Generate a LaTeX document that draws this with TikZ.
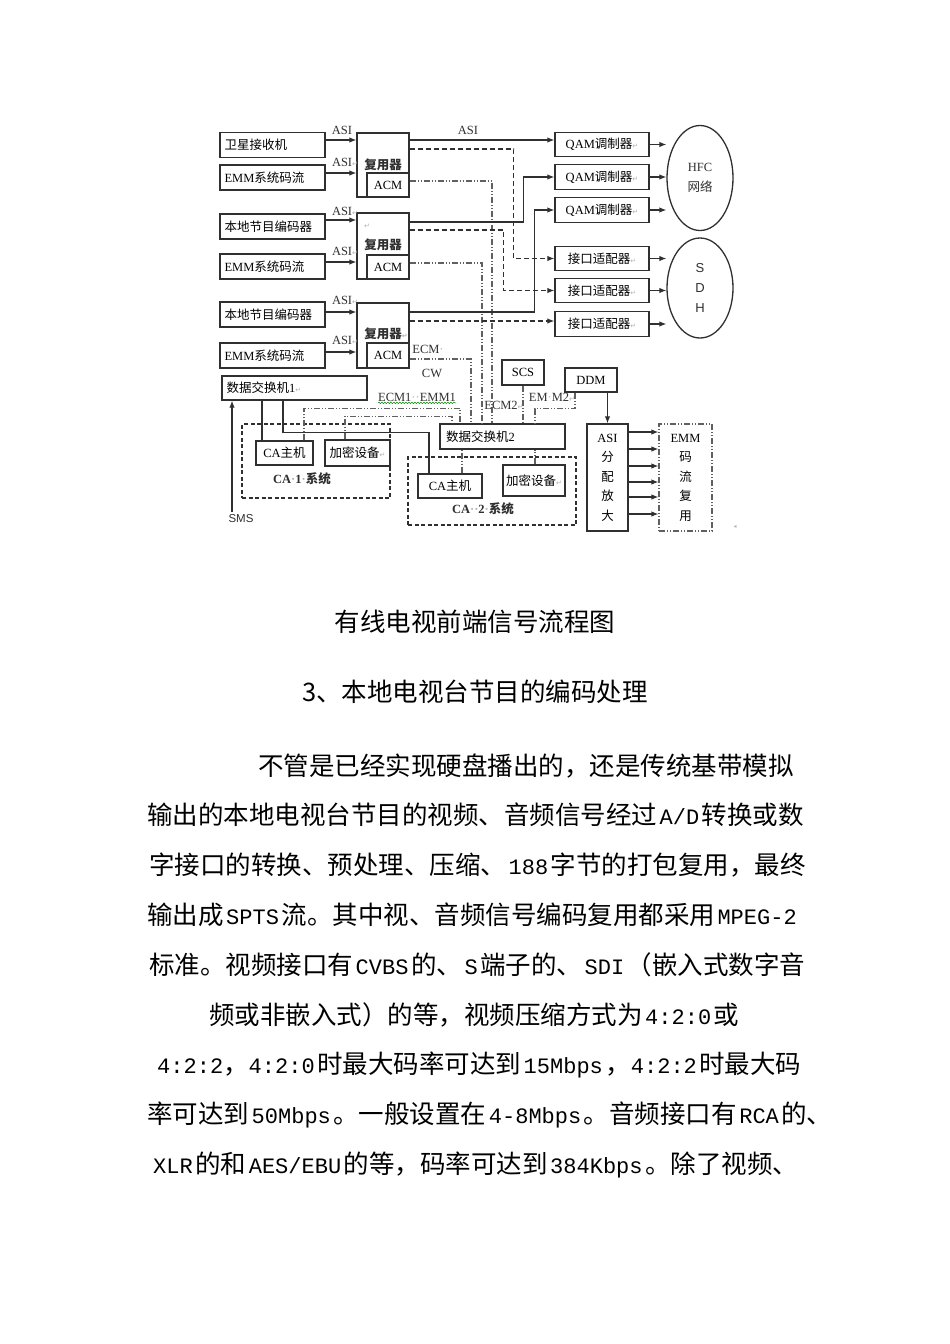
\documentclass[tikz,border=0pt]{standalone}
\usepackage{fontspec}
\setmainfont{Liberation Serif}
\newfontfamily\cjk{Noto Sans CJK SC}
\newfontfamily\mono{Liberation Mono}
\newfontfamily\symf{DejaVu Sans}
\newfontfamily\sansf{Liberation Sans}
\usetikzlibrary{arrows.meta,shapes.geometric,decorations.pathmorphing}
\definecolor{ln}{HTML}{303030}
\definecolor{dl}{HTML}{606060}
\newcommand\ret{{\symf\color{gray!60}\fontsize{7}{7}\selectfont ↵}}
\newcommand\gdot{{\color{gray!60}·}}
\newcommand\dfont{\fontsize{12.5}{14}\selectfont}
\newcommand\lat[1]{\kern2.5pt{\mono\fontsize{22}{30}\selectfont #1}\kern2.5pt}
\newcommand\latn[1]{{\mono\fontsize{22}{30}\selectfont #1}}
\tikzset{
  box/.style={draw=ln, line width=1.3pt, inner sep=0pt, font=\dfont},
  lbox/.style={box, minimum width=105pt, minimum height=25pt, text width=96pt, align=left},
  qbox/.style={box, minimum width=94pt, minimum height=24.5pt},
  sol/.style={draw=ln, line width=1.2pt},
  arr/.style={draw=ln, line width=1.2pt, -{Latex[length=7pt,width=5.5pt]}},
  dsh/.style={draw=ln, line width=1.2pt, dash pattern=on 5pt off 3pt},
  dd/.style={draw=dl, line width=1.2pt, dash pattern=on 6pt off 2pt on 1pt off 2pt on 1pt off 2pt},
  lbl/.style={inner sep=0pt, font=\dfont, text=ln},
  body/.style={anchor=west, inner sep=0pt, font=\cjk\fontsize{25.5}{30}\selectfont},
  head/.style={inner sep=0pt, font=\cjk\fontsize{25.5}{30}\selectfont}
}
\begin{document}
\begin{tikzpicture}[x=1pt,y=-1pt]
\useasboundingbox[fill=white] (0,0) rectangle (950,1344);

% left input boxes
\node[lbox] (sat)  at (272.5,145)   {\cjk 卫星接收机};
\node[lbox] (emm1) at (272.5,177.5) {EMM{\cjk 系统码流}};
\node[lbox] (enc2) at (272.5,226.5) {\cjk 本地节目编码器};
\node[lbox] (emm2) at (272.5,266.5) {EMM{\cjk 系统码流}};
\node[lbox] (enc3) at (272.5,314.5) {\cjk 本地节目编码器};
\node[lbox] (emm3) at (272.5,355.5) {EMM{\cjk 系统码流}};
\node[box, minimum width=145pt, minimum height=24pt, text width=136pt, align=left] (sw1) at (294.5,388) {{\cjk 数据交换机}1\ret};

% multiplexers
\node[box, minimum width=52pt, minimum height=64pt] (mux1) at (383,165) {};
\node[box, minimum width=42pt, minimum height=24pt] (acm1) at (388,185) {ACM};
\node[lbl, font=\dfont\bfseries] (m1l) at (383,165) {\cjk 复用器};
\node[box, minimum width=52pt, minimum height=66pt] (mux2) at (383,246) {};
\node[box, minimum width=42pt, minimum height=24pt] (acm2) at (388,267) {ACM};
\node[lbl, font=\dfont\bfseries] (m2l) at (383,245) {\cjk 复用器};
\node[lbl] (m2r) at (367,226) {\ret};
\node[box, minimum width=52pt, minimum height=65pt] (mux3) at (383,335.5) {};
\node[box, minimum width=42pt, minimum height=25pt] (acm3) at (388,355.5) {ACM};
\node[lbl, font=\dfont\bfseries] (m3l) at (386,334) {{\cjk 复用器}\ret};

% QAM and interface adapters
\node[qbox] (qam1) at (602,144.5) {QAM{\cjk 调制器}\ret};
\node[qbox] (qam2) at (602,177)   {QAM{\cjk 调制器}\ret};
\node[qbox] (qam3) at (602,210)   {QAM{\cjk 调制器}\ret};
\node[qbox] (if1)  at (602,258.5) {{\cjk 接口适配器}\ret};
\node[qbox] (if2)  at (602,290.5) {{\cjk 接口适配器}\ret};
\node[qbox] (if3)  at (602,324)   {{\cjk 接口适配器}\ret};

% networks
\node[ellipse, draw=ln, line width=1.3pt, inner sep=0pt, minimum width=66pt, minimum height=105pt, align=center, font=\fontsize{12.5}{20}\selectfont, text=ln] (hfc) at (700,178) {HFC\\{\cjk 网络}};
\node[ellipse, draw=ln, line width=1.3pt, inner sep=0pt, minimum width=66pt, minimum height=100pt, align=center, font=\sansf\fontsize{13}{20}\selectfont, text=ln] (sdh) at (700,288) {S\\D\\H};

% lower centre
\node[box, minimum width=125pt, minimum height=25pt, text width=113pt, align=left] (sw2) at (502.5,436.5) {{\cjk 数据交换机}2};
\node[box, minimum width=42pt, minimum height=25pt] (scs) at (523,372.5) {SCS};
\node[box, minimum width=52pt, minimum height=24pt] (ddm) at (591,380) {DDM};
\node[box, minimum width=41pt, minimum height=107pt, align=center, font=\fontsize{12.5}{19.5}\selectfont] (asi) at (607.5,477.5) {ASI\\{\cjk 分}\\{\cjk 配}\\{\cjk 放}\\{\cjk 大}};
\node[box, dd, minimum width=53pt, minimum height=107pt, align=center, font=\fontsize{12.5}{19.5}\selectfont] (emmx) at (685.5,477.5) {EMM\\{\cjk 码}\\{\cjk 流}\\{\cjk 复}\\{\cjk 用}};

% CA systems
\node[draw=ln, line width=1.2pt, dash pattern=on 4pt off 2.5pt, minimum width=148pt, minimum height=74pt, inner sep=0pt] (ca1) at (316,461) {};
\node[box, minimum width=57pt, minimum height=24pt] (cah1) at (284.5,453) {CA{\cjk 主机}};
\node[box, minimum width=65pt, minimum height=26pt] (enc1) at (357.5,453) {{\cjk 加密设备}\ret};
\node[lbl, font=\dfont\bfseries] (ca1l) at (302,479) {CA\gdot 1\gdot{\cjk 系统}};
\node[draw=ln, line width=1.2pt, dash pattern=on 4pt off 2.5pt, minimum width=168pt, minimum height=68pt, inner sep=0pt] (ca2) at (492,491) {};
\node[box, minimum width=64pt, minimum height=24pt] (cah2) at (450,486) {CA{\cjk 主机}};
\node[box, minimum width=62pt, minimum height=31pt] (enc2b) at (534,480.5) {{\cjk 加密设备}\ret};
\node[lbl, font=\dfont\bfseries] (ca2l) at (483,509) {CA\gdot\gdot 2\gdot{\cjk 系统}};

% input arrows
\draw[arr] ([yshift=5pt]sat.east)    -- ([yshift=5pt]sat.east -| mux1.west);
\draw[arr] ([yshift=4.5pt]emm1.east) -- ([yshift=4.5pt]emm1.east -| mux1.west);
\draw[arr] ([yshift=6.5pt]enc2.east) -- ([yshift=6.5pt]enc2.east -| mux2.west);
\draw[arr] ([yshift=4.5pt]emm2.east) -- ([yshift=4.5pt]emm2.east -| mux2.west);
\draw[arr] ([yshift=2.5pt]enc3.east) -- ([yshift=2.5pt]enc3.east -| mux3.west);
\draw[arr] ([yshift=3.5pt]emm3.east) -- ([yshift=3.5pt]emm3.east -| mux3.west);
\node[lbl] (a1) at (342,130) {ASI};
\node[lbl] (a2) at (345,162) {ASI\ret};
\node[lbl] (a3) at (345,211) {ASI\ret};
\node[lbl] (a4) at (345,251) {ASI\ret};
\node[lbl] (a5) at (345,300) {ASI\ret};
\node[lbl] (a6) at (345,340) {ASI\ret};

% mux outputs
\draw[arr] ([yshift=25pt]mux1.east) -- ([yshift=25pt]mux1.east -| qam1.west);
\node[lbl] (a7) at (468,130) {ASI};
\draw[dsh,-{Latex[length=7pt,width=5.5pt]}] ([yshift=16pt]mux1.east) -- ++(104,0) |- (if1.west);
\draw[dd] ([yshift=4pt]acm1.east) -| ([xshift=-10.5pt]sw2.north);
\draw[arr] ([yshift=24pt]mux2.east) -- ++(114,0) |- (qam2.west);
\draw[dsh,-{Latex[length=7pt,width=5.5pt]}] ([yshift=16pt]mux2.east) -- ++(94,0) |- (if2.west);
\draw[dd] ([yshift=4pt]acm2.east) -| ([xshift=-20.5pt]sw2.north);
\draw[arr] ([yshift=23.5pt]mux3.east) -- ++(125,0) |- (qam3.west);
\draw[dsh,-{Latex[length=7pt,width=5.5pt]}] ([yshift=14.5pt]mux3.east) -- ([yshift=14.5pt]mux3.east -| if3.west);
\draw[dd] ([yshift=-3.5pt]acm3.east) -| ([xshift=-31.5pt]sw2.north);
\node[lbl] (lecm) at (428,349) {ECM\gdot};
\node[lbl] (lcw) at (432,373) {CW};

% to networks
\foreach \b in {qam1,qam2,qam3} \draw[arr] (\b.east) -- (\b.east -| hfc.west);
\foreach \b in {if1,if2,if3} \draw[arr] (\b.east) -- (\b.east -| sdh.west);

% SCS, DDM
\draw[dd] (scs.south) -- (scs.south |- sw2.north);
\node[lbl] (lecm2) at (504,405) {ECM2\ret};
\draw[dd] ([xshift=-16pt]ddm.south) -- ++(0,16) -| ([xshift=32.5pt]sw2.north);
\node[lbl] (lemm2) at (552,397) {EM\gdot M2\ret};
\draw[arr] (asi.north |- ddm.south) -- (asi.north);
\foreach \s in {45.5,28.5,11.5,-4.5,-19.5,-36.5}
  \draw[arr] ([yshift=\s pt]asi.east) -- ([yshift=\s pt]asi.east -| emmx.west);

% data switch 1 links
\draw[sol] ([xshift=-22.5pt]cah1.north) -- ([xshift=-22.5pt]cah1.north |- sw1.south);
\draw[sol] ([xshift=-11.5pt]sw1.south) -- ++(0,32) -| ([xshift=-21pt]cah2.north);
\coordinate (sms) at (232,512);
\draw[arr] (sms) -- (sms |- sw1.south);
\node[lbl, font=\sansf\fontsize{11.5}{13}\selectfont] (smsl) at (241,519) {SMS};

% CA1 to data switch 2
\draw[dd] ([xshift=19.5pt]cah1.north) -- ++(0,-32) -| ([xshift=-42.5pt]sw2.north);
\draw[dd] ([xshift=-12.5pt]enc1.north) -- ++(0,-23) -| ([xshift=-50.5pt]sw2.north);
\node[lbl] (lecm1) at (417,397) {ECM1\gdot\gdot EMM1};
\draw[green!55!black, line width=0.5pt, decorate, decoration={snake, amplitude=0.7pt, segment length=3pt}] ([yshift=-1.5pt]lecm1.south west) -- ([yshift=-1.5pt]lecm1.south east);

% data switch 2 to CA2
\draw[dd] ([xshift=12pt]cah2.north) -- ([xshift=12pt]cah2.north |- sw2.south);
\draw[dd] ([xshift=1pt]enc2b.north) -- ([xshift=1pt]enc2b.north |- sw2.south);

\node[lbl, text=gray!60, font=\symf\fontsize{6}{6}\selectfont] (mk) at (735,527) {◂};

% text below
\node[head] (cap) at (475,622) {有线电视前端信号流程图};
\node[head] (sec) at (475,692) {3、本地电视台节目的编码处理};
\node[body] (l1) at (258,766) {不管是已经实现硬盘播出的，还是传统基带模拟};
\node[body] (l2) at (147,815) {输出的本地电视台节目的视频、音频信号经过\lat{A/D}转换或数};
\node[body] (l3) at (149,865) {字接口的转换、预处理、压缩、\lat{188}字节的打包复用，最终};
\node[body] (l4) at (147,915) {输出成\lat{SPTS}流。其中视、音频信号编码复用都采用\lat{MPEG-2}};
\node[body] (l5) at (149,965) {标准。视频接口有\lat{CVBS}的、\lat{S}端子的、\lat{SDI}（嵌入式数字音};
\node[body] (l6) at (209,1015) {频或非嵌入式）的等，视频压缩方式为\lat{4:2:0}或};
\node[body] (l7) at (157,1065) {\latn{4:2:2}，\latn{4:2:0}\kern2.5pt 时最大码率可达到\lat{15Mbps}，\latn{4:2:2}\kern2.5pt 时最大码};
\node[body] (l8) at (147,1115) {率可达到\lat{50Mbps}。一般设置在\lat{4-8Mbps}。音频接口有\lat{RCA}的、};
\node[body] (l9) at (153,1165) {\latn{XLR}\kern2.5pt 的和\lat{AES/EBU}的等，码率可达到\lat{384Kbps}。除了视频、};
\end{tikzpicture}
\end{document}
